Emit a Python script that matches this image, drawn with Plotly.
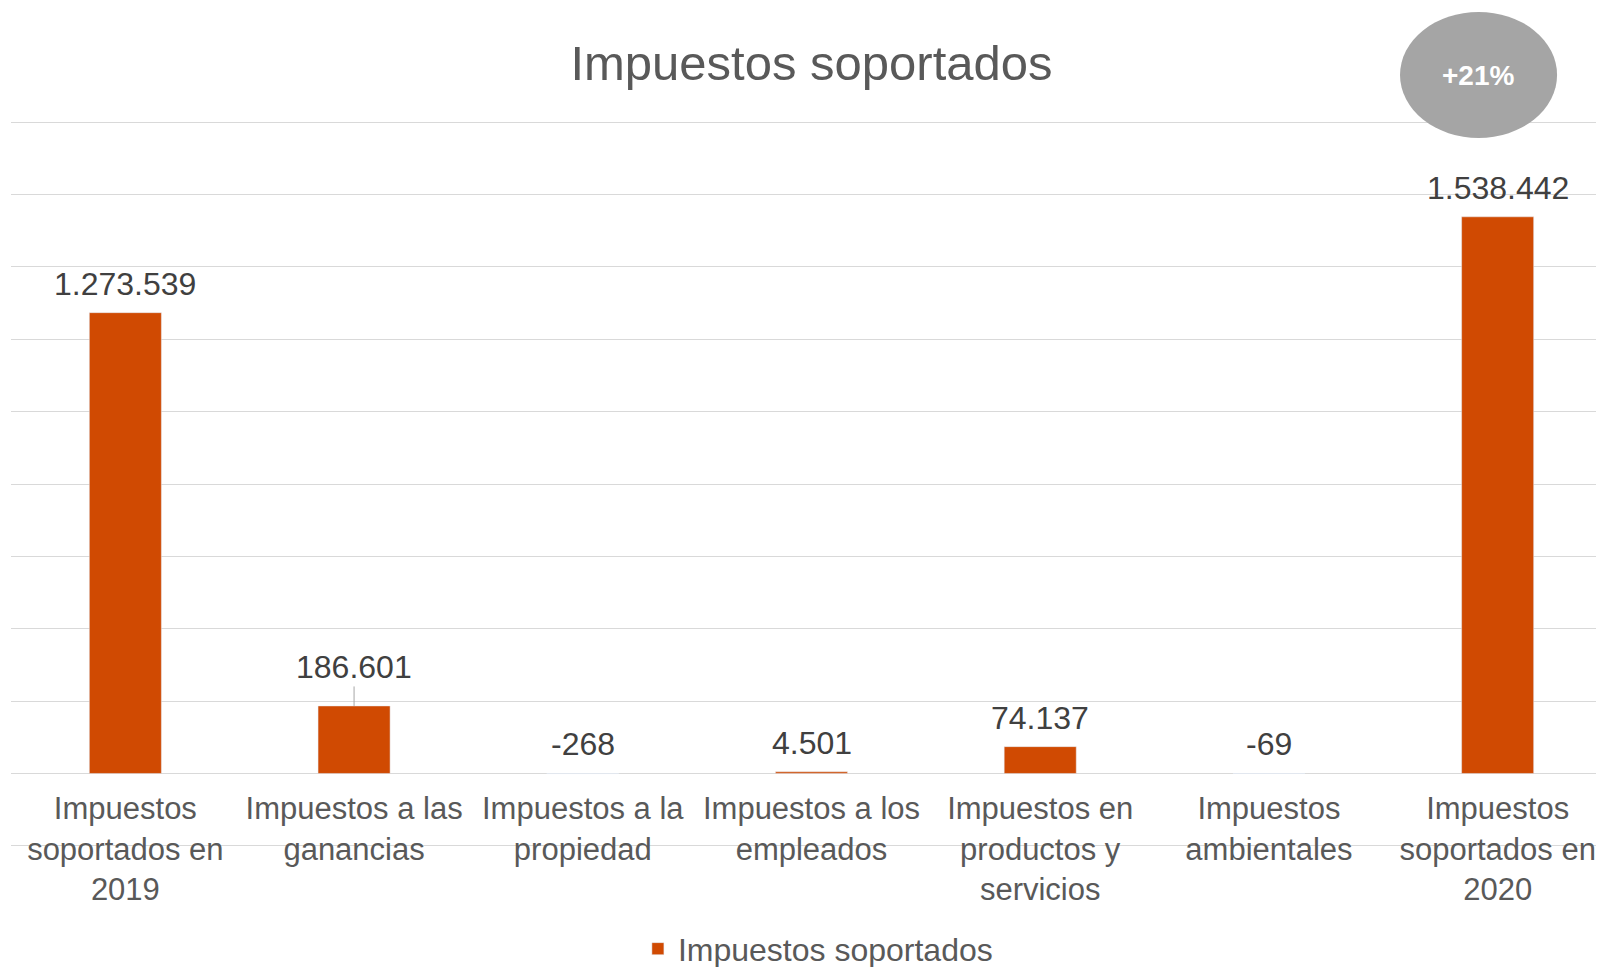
import plotly.graph_objects as go

# ---------------------------------------------------
# DATA
# ---------------------------------------------------

categorias = [
    "Impuestos<br>soportados en<br>2019",
    "Impuestos a las<br>ganancias",
    "Impuestos a la<br>propiedad",
    "Impuestos a los<br>empleados",
    "Impuestos en<br>productos y<br>servicios",
    "Impuestos<br>ambientales",
    "Impuestos<br>soportados en<br>2020",
]
valores = [1273539, 186601, -268, 4501, 74137, -69, 1538442]
variacion = "+21%"

NARANJA = "#D04A02"
GRIS_TEXTO = "#595959"
GRIS_ETIQUETA = "#404040"
FUENTE = "Arial, Liberation Sans, sans-serif"

# y range padded a little so the first and last gridlines are drawn
Y_MIN, Y_MAX = -206000, 1806000


def formato_es(v):
    return f"{v:,}".replace(",", ".")


fig = go.Figure()

# ------------------------------------------------
# BARS
# ------------------------------------------------

fig.add_trace(
    go.Bar(
        x=categorias,
        y=valores,
        name="Impuestos soportados",
        marker=dict(color=NARANJA),
        width=0.315,
        hoverinfo="skip"
    )
)

# ------------------------------------------------
# DATA LABELS
# ------------------------------------------------

for i, (cat, v) in enumerate(zip(categorias, valores)):
    base = max(v, 0)
    if i == 1:
        # label moved up with a leader line
        fig.add_annotation(
            x=cat, y=base, text=formato_es(v),
            showarrow=True, arrowhead=0, arrowwidth=1,
            arrowcolor="#A6A6A6", ax=0, ay=-39,
            font=dict(family=FUENTE, size=32, color=GRIS_ETIQUETA)
        )
    else:
        fig.add_annotation(
            x=cat, y=base, text=formato_es(v),
            showarrow=False, yanchor="middle", yshift=29,
            font=dict(family=FUENTE, size=32, color=GRIS_ETIQUETA)
        )

# ------------------------------------------------
# +21% BUBBLE
# ------------------------------------------------

fig.add_shape(
    type="circle",
    xref="paper", yref="paper",
    x0=0.8676, x1=0.9657, y0=0.9753, y1=1.1484,
    fillcolor="#A5A5A5",
    line=dict(width=0)
)
fig.add_annotation(
    xref="paper", yref="paper",
    x=0.9163, y=1.0618,
    xanchor="center", yanchor="middle",
    text="<b>" + variacion + "</b>",
    showarrow=False,
    font=dict(family=FUENTE, size=28, color="white")
)

# ------------------------------------------------
# LAYOUT
# ------------------------------------------------

fig.update_layout(
    width=1604,
    height=967,
    paper_bgcolor="white",
    plot_bgcolor="white",
    font=dict(family=FUENTE, color=GRIS_TEXTO),
    title=dict(
        text="Impuestos soportados",
        x=0.5, xref="paper",
        y=1 - 55 / 967, yref="container",
        xanchor="center", yanchor="middle",
        font=dict(family=FUENTE, size=49, color=GRIS_TEXTO)
    ),
    showlegend=True,
    legend=dict(
        orientation="h",
        x=0.504, xanchor="center",
        y=-0.1385, yanchor="middle",
        font=dict(family=FUENTE, size=32, color=GRIS_TEXTO)
    ),
    margin=dict(l=3, r=0, t=112, b=127, autoexpand=False),
    hovermode=False
)

fig.update_xaxes(
    range=[-0.5, 6.5],
    anchor="free",
    position=(0 - Y_MIN) / (Y_MAX - Y_MIN),
    automargin=False,
    showgrid=False,
    showline=False,
    ticks="",
    ticklabelstandoff=14,
    tickfont=dict(family=FUENTE, size=31, color=GRIS_TEXTO)
)

fig.update_yaxes(
    range=[Y_MIN, Y_MAX],
    dtick=200000,
    automargin=False,
    showticklabels=False,
    showgrid=True,
    gridcolor="#D9D9D9",
    gridwidth=1.3,
    zeroline=True,
    zerolinecolor="#D9D9D9",
    zerolinewidth=1.3
)

fig.write_html("out.html")
